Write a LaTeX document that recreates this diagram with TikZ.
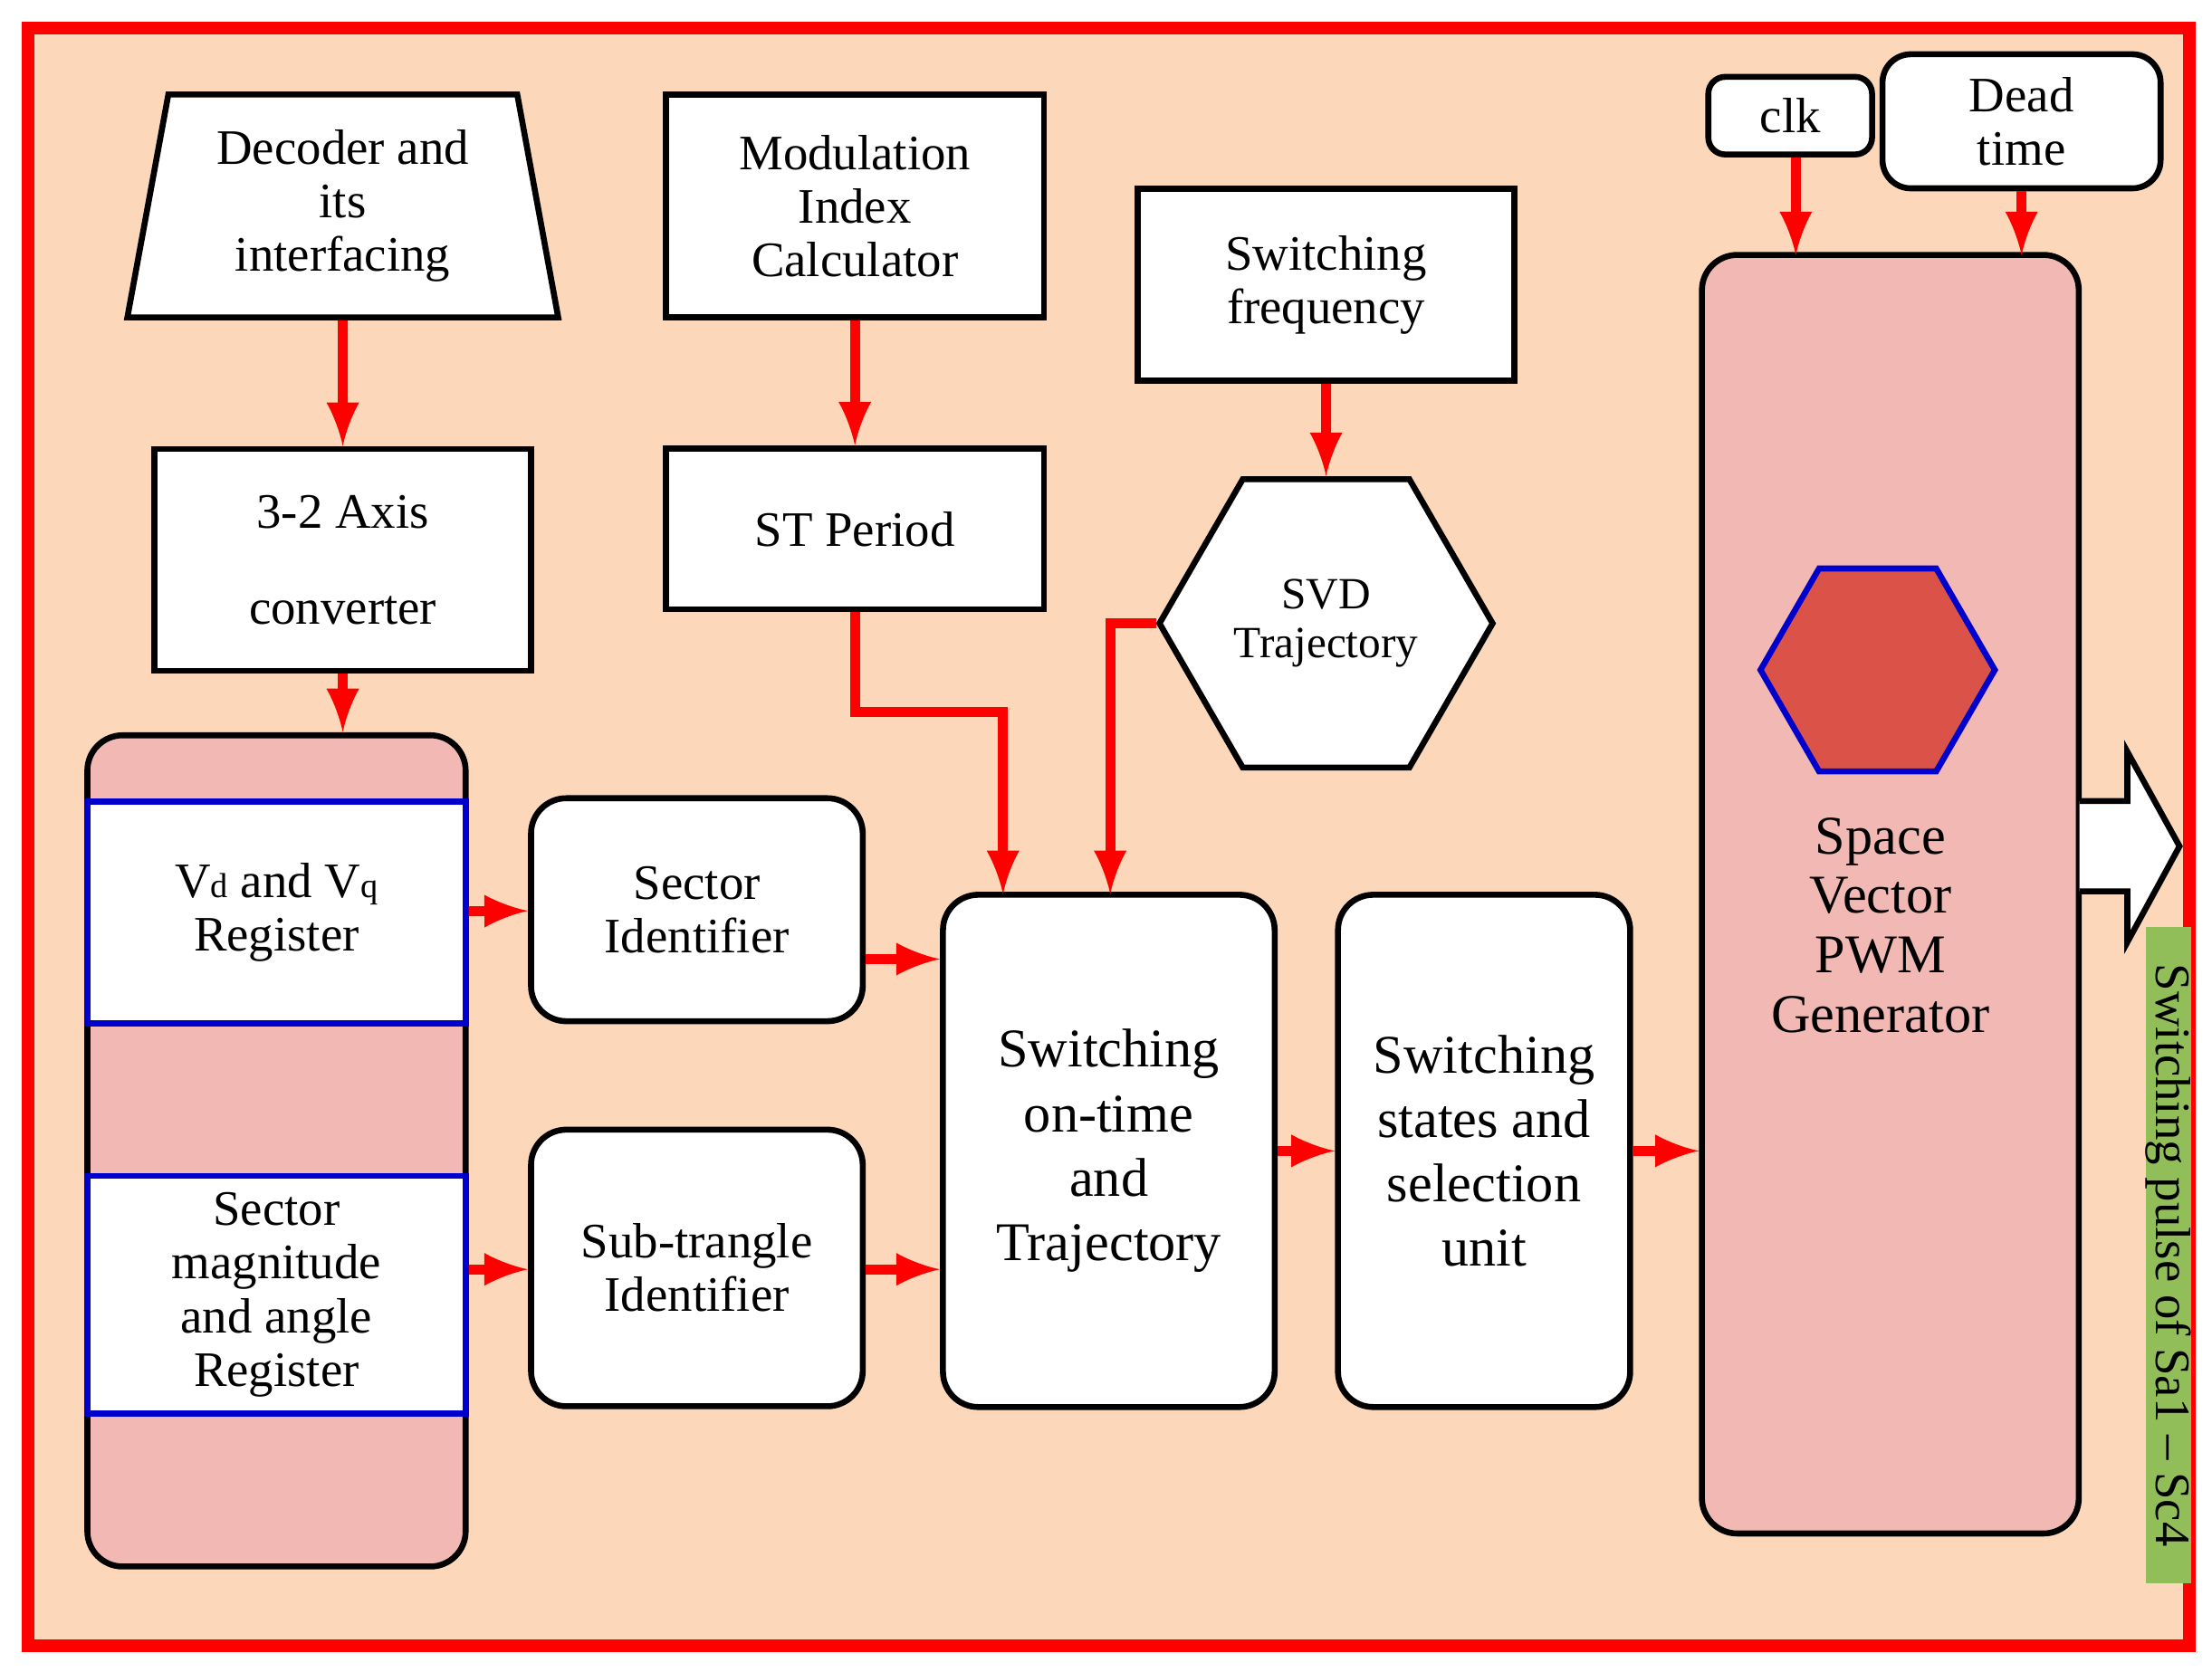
\documentclass[tikz,border=0pt]{standalone}
\usepackage{fontspec}
\setmainfont{Liberation Serif}
\usetikzlibrary{shapes.geometric}
\definecolor{peach}{RGB}{253,215,185}
\definecolor{rose}{RGB}{242,185,180}
\definecolor{brick}{RGB}{218,82,72}
\definecolor{leaf}{RGB}{146,190,90}
\begin{document}
\begin{tikzpicture}[x=0.01cm,y=-0.01cm,line width=1.2pt,
    blk/.style={draw,fill=white,align=center,font=\fontsize{10}{10.8}\selectfont},
    rblk/.style={blk,rounded corners=0.25cm},
    reg/.style={blk,draw=blue!80!black},
    feed/.style={->,>=latex,draw=red,line width=2pt}]
    \useasboundingbox (0,0) rectangle (1568,1185);
    \draw[red,line width=2.5pt,fill=peach] (20,20) rectangle (1552,1167);

    % input blocks
    \node[blk,trapezium,trapezium stretches=true,trapezium left angle=79,trapezium right angle=79,minimum width=3.06cm,minimum height=1.58cm,inner sep=0pt] (dec) at (243,146) {Decoder and\\its\\interfacing};
    \node[blk,minimum width=2.68cm,minimum height=1.58cm] (mod) at (606,146) {Modulation\\Index\\Calculator};
    \node[blk,minimum width=2.67cm,minimum height=1.36cm] (freq) at (940,202) {Switching\\frequency};
    \node[rblk,minimum width=1.16cm,minimum height=0.55cm,rounded corners=0.12cm] (clk) at (1269,82) {clk};
    \node[rblk,minimum width=1.97cm,minimum height=0.95cm,rounded corners=0.2cm] (dead) at (1433,86) {Dead\\time};
    \node[blk,minimum width=2.67cm,minimum height=1.57cm,align=center] (axis) at (243,397) {3-2 Axis\\[0.3cm]converter};
    \node[blk,minimum width=2.68cm,minimum height=1.14cm] (st) at (606,375) {ST Period};
    \node[blk,regular polygon,regular polygon sides=6,minimum size=2.36cm,inner sep=0pt,font=\fontsize{9}{9.8}\selectfont] (svd) at (940,442) {SVD\\Trajectory};

    % register column
    \node[rblk,fill=rose,minimum width=2.68cm,minimum height=5.89cm] (col) at (196,816) {};
    \node[reg,minimum width=2.68cm,minimum height=1.57cm] (vdq) at (196,647) {V{\scriptsize d} and V{\scriptsize q}\\Register};
    \node[reg,minimum width=2.68cm,minimum height=1.58cm] (mag) at (196,918) {Sector\\magnitude\\and angle\\Register};

    % processing blocks
    \node[rblk,minimum width=2.35cm,minimum height=1.58cm] (sid) at (494,645) {Sector\\Identifier};
    \node[rblk,minimum width=2.35cm,minimum height=1.96cm] (tid) at (494,899) {Sub-trangle\\Identifier};
    \node[rblk,minimum width=2.35cm,minimum height=3.63cm,font=\fontsize{11}{13}\selectfont] (ont) at (786,816) {Switching\\on-time\\and\\Trajectory};
    \node[rblk,minimum width=2.07cm,minimum height=3.63cm,font=\fontsize{11}{13}\selectfont] (sel) at (1052,816) {Switching\\states and\\selection\\unit};
    \node[rblk,fill=rose,minimum width=2.67cm,minimum height=9.06cm] (pwm) at (1340,634) {};
    \node[regular polygon,regular polygon sides=6,minimum size=1.66cm,draw=blue!80!black,fill=brick] (hex) at (1331,475) {};
    \node[align=center,font=\fontsize{11}{12}\selectfont] (pwmtxt) at (1333,656) {Space\\Vector\\PWM\\Generator};

    % output
    \coordinate (out) at (1474,600);
    \draw[fill=white] (out) ++(0,-32) -- (1508,568) -- (1508,533) -- (1545,600)
        -- (1508,668) -- (1508,632) -- (1474,632);
    \node[fill=leaf,minimum width=4.65cm,minimum height=0.3cm,inner sep=0pt,rotate=-90,font=\fontsize{10}{10}\selectfont] (pulse) at (1537,890) {Switching pulse of Sa1 -- Sc4};

    % connectors
    \draw[feed] (dec.south) -- (axis.north);
    \draw[feed] (mod) -- (st);
    \draw[feed] (freq) -- (svd);
    \draw[feed] (axis.south) -- (axis.south |- col.north);
    \draw[feed] (st.south) |- (711,505) -- (711,634);
    \draw[feed] (svd.west) -| (787,634);
    \draw[feed] (vdq) -- (sid);
    \draw[feed] (mag.east |- 0,900) -- (tid.west |- 0,900);
    \draw[feed] (sid.east |- 0,680) -- (ont.west |- 0,680);
    \draw[feed] (tid.east |- 0,900) -- (ont.west |- 0,900);
    \draw[feed] (ont) -- (sel);
    \draw[feed] (sel) -- (pwm.west |- sel);
    \draw[feed] (clk.south -| 1273,0) -- (1273,181);
    \draw[feed] (dead.south) -- (1433,181);
\end{tikzpicture}
\end{document}
